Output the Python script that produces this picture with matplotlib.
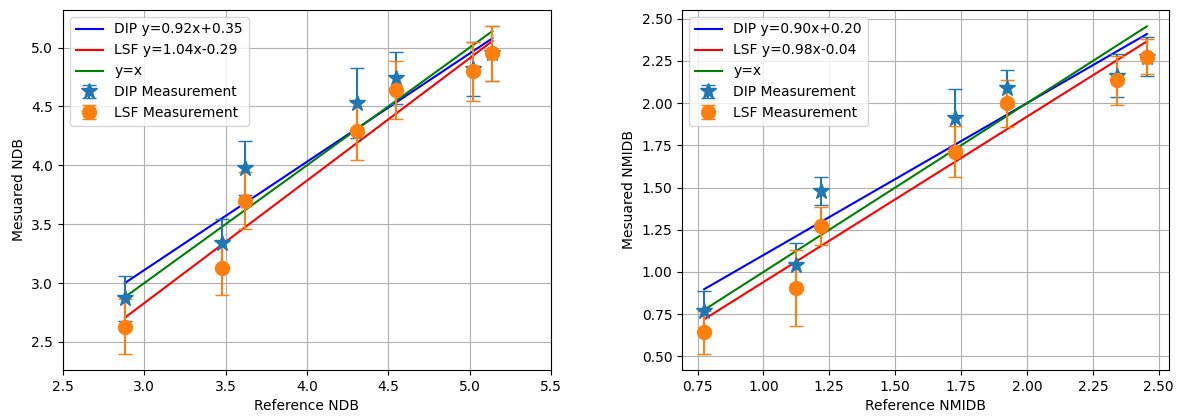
import matplotlib
matplotlib.use("Agg")
import matplotlib.pyplot as plt
import numpy as np

# ---- Left panel: NDB ----
ref_ndb = [2.88, 3.48, 3.62, 4.31, 4.55, 5.02, 5.14]
dip_ndb = [2.87, 3.34, 3.98, 4.53, 4.74, 4.82, 4.95]
dip_ndb_err = [0.19, 0.20, 0.23, 0.30, 0.22, 0.23, 0.23]
lsf_ndb = [2.63, 3.13, 3.70, 4.29, 4.64, 4.80, 4.95]
lsf_ndb_err = [0.23, 0.23, 0.24, 0.245, 0.25, 0.25, 0.23]
dip_ndb_fit = (0.92, 0.35)
lsf_ndb_fit = (1.04, -0.29)

# ---- Right panel: NMIDB ----
ref_nmidb = [0.775, 1.125, 1.219, 1.727, 1.925, 2.343, 2.455]
dip_nmidb = [0.77, 1.04, 1.48, 1.91, 2.09, 2.162, 2.276]
dip_nmidb_err = [0.117, 0.13, 0.084, 0.175, 0.105, 0.128, 0.115]
lsf_nmidb = [0.643, 0.907, 1.272, 1.712, 2.00, 2.136, 2.275]
lsf_nmidb_err = [0.127, 0.225, 0.11, 0.15, 0.14, 0.145, 0.103]
dip_nmidb_fit = (0.90, 0.20)
lsf_nmidb_fit = (0.98, -0.04)

fig = plt.figure(figsize=(11.77, 4.16), dpi=100)
ax1 = fig.add_axes([63/1177, 46/416, (551-63)/1177, (406-46)/416])
ax2 = fig.add_axes([682/1177, 46/416, (1169-682)/1177, (406-46)/416])


def panel(ax, ref, dip, dip_err, lsf, lsf_err, dfit, lfit, xlabel, ylabel):
    x = np.array(ref)
    ax.plot(x, dfit[0] * x + dfit[1], color='b',
            label=f"DIP y={dfit[0]:.2f}x{dfit[1]:+.2f}")
    ax.plot(x, lfit[0] * x + lfit[1], color='r',
            label=f"LSF y={lfit[0]:.2f}x{lfit[1]:+.2f}")
    ax.plot(x, x, color='g', label="y=x")
    ax.errorbar(ref, dip, yerr=dip_err, fmt='*', color='C0', markersize=12,
                capsize=5, label="DIP Measurement")
    ax.errorbar(ref, lsf, yerr=lsf_err, fmt='o', color='C1', markersize=10,
                capsize=5, label="LSF Measurement")
    ax.grid(True)
    ax.set_xlabel(xlabel)
    ax.set_ylabel(ylabel)
    ax.legend(loc='upper left')


panel(ax1, ref_ndb, dip_ndb, dip_ndb_err, lsf_ndb, lsf_ndb_err,
      dip_ndb_fit, lsf_ndb_fit, "Reference NDB", "Mesuared NDB")
ax1.set_xlim(2.5, 5.5)

panel(ax2, ref_nmidb, dip_nmidb, dip_nmidb_err, lsf_nmidb, lsf_nmidb_err,
      dip_nmidb_fit, lsf_nmidb_fit, "Reference NMIDB", "Mesuared NMIDB")

fig.savefig("out.png", dpi=100)
